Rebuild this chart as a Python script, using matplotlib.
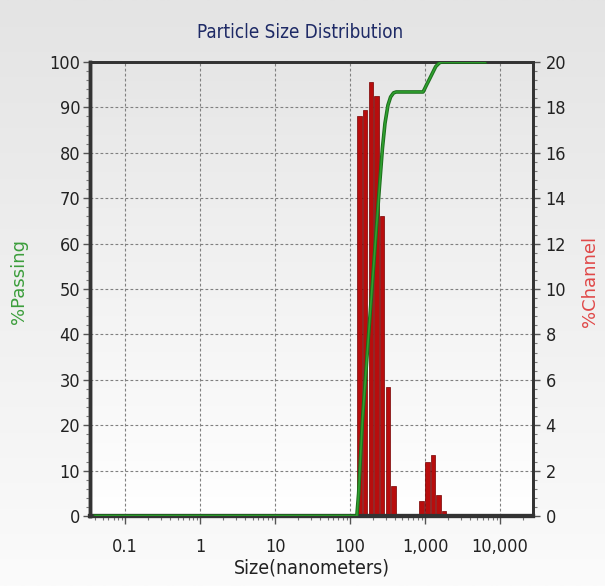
import numpy as np
import matplotlib
matplotlib.use("Agg")
import matplotlib.pyplot as plt
from matplotlib.ticker import FixedLocator, MultipleLocator, LogLocator, NullFormatter

# channel data (size in nm, % in channel)
bin_sizes = [134, 159, 189, 225, 268, 318, 378, 900, 1070, 1272, 1513, 1800]
channel_pct = [17.6, 17.9, 19.1, 18.5, 13.2, 5.7, 1.3, 0.66, 2.4, 2.7, 0.93, 0.2]

# cumulative passing curve
pass_sizes = [0.04, 100, 123, 130, 146, 173, 206, 245, 270, 292, 320, 347, 380, 412,
              600, 940, 981, 1050, 1167, 1387, 1550, 1650, 1800, 3000, 6300]
pass_pct = [0, 0, 0, 5, 21, 38, 55, 72, 81, 86.5, 90.5, 92.3, 93.2, 93.4,
            93.4, 93.4, 94.0, 95.0, 96.5, 99.0, 99.8, 100, 100, 100, 100]

x_ticks = [0.1, 1, 10, 100, 1000, 10000]
x_labels = ["0.1", "1", "10", "100", "1,000", "10,000"]

plt.rcParams['font.family'] = ['DejaVu Sans']
plt.rcParams['font.stretch'] = 'condensed'
W, H = 605, 586
fig = plt.figure(figsize=(W / 100, H / 100), dpi=100)

# figure background gradient
bg = fig.add_axes([0, 0, 1, 1], zorder=-10)
grad = np.linspace(0, 1, 256).reshape(-1, 1)
bg.imshow(grad, aspect='auto', cmap=matplotlib.colors.LinearSegmentedColormap.from_list(
    'g', ['#e4e4e4', '#fbfbfb']), extent=[0, 1, 0, 1], transform=bg.transAxes)
bg.axis('off')

pos = [90 / W, 1 - 516 / H, (533 - 90) / W, (516 - 62) / H]
ax2 = fig.add_axes(pos)   # right axis: %Channel (bars)
ax = fig.add_axes(pos, sharex=ax2)   # left axis: %Passing (curve)
ax.set_zorder(ax2.get_zorder() + 1)
ax.patch.set_visible(False)

# plot area gradient
ax2.imshow(grad, aspect='auto', cmap=matplotlib.colors.LinearSegmentedColormap.from_list(
    'p', ['#e6e6e6', '#ffffff']), extent=[0, 1, 0, 1], transform=ax2.transAxes, zorder=0)

ax2.set_xscale('log')
ax2.set_xlim(0.034, 27500)
ax2.set_ylim(0, 20)
ax.set_ylim(0, 100)

# bars, one per log channel
r = 2 ** 0.25
sizes = np.array(bin_sizes, dtype=float)
step = sizes * (r ** 0.5 - r ** -0.5)
ax2.bar(sizes / r ** 0.5 + step * 0.11, channel_pct, width=step * 0.78, align='edge',
        color='#b80d0d', edgecolor='#760000', linewidth=0.5, zorder=3)

# passing curve
ax.plot(pass_sizes, pass_pct, color='#1c6e1c', lw=2.6, zorder=4, solid_joinstyle='round')
ax.plot(pass_sizes, pass_pct, color='#2fa02f', lw=1.2, zorder=5, solid_joinstyle='round')

# grid
ax2.grid(True, which='major', axis='both', color='#808080', ls=(0, (2.5, 2)), lw=0.8, zorder=1)
ax2.set_axisbelow(True)

# ticks
ax2.yaxis.tick_right()
ax2.yaxis.set_label_position('right')
ax2.yaxis.set_major_locator(MultipleLocator(2))
ax2.yaxis.set_minor_locator(MultipleLocator(0.4))
ax.yaxis.tick_left()
ax.yaxis.set_major_locator(MultipleLocator(10))
ax.yaxis.set_minor_locator(MultipleLocator(2))
ax2.xaxis.set_major_locator(FixedLocator(x_ticks))
ax2.xaxis.set_minor_locator(LogLocator(base=10, subs=np.arange(2, 10)))
ax2.xaxis.set_minor_formatter(NullFormatter())
ax2.set_xticklabels(x_labels)
ax.tick_params(axis='x', which='both', bottom=False, labelbottom=False)

for a in (ax, ax2):
    a.tick_params(which='major', length=5, width=1, color='#555555', labelsize=13,
                  labelcolor='#222222', direction='out', pad=2)
    a.tick_params(which='minor', length=3, width=0.8, color='#777777', direction='out')
    for s in a.spines.values():
        s.set_color('#333333')
        s.set_linewidth(2)
    a.spines['bottom'].set_linewidth(3)
    a.spines['left'].set_linewidth(2.5)
ax2.tick_params(axis='x', which='major', length=6, pad=10)
ax2.tick_params(axis='y', pad=4)

ax.set_ylabel('%Passing', color='#3c9e3c', fontsize=13, fontstretch='normal')
ax.yaxis.set_label_coords((28 - 90) / 443, (516 - 281) / 454)
ax2.set_ylabel('%Channel', color='#e04848', fontsize=13, fontstretch='normal')
ax2.yaxis.set_label_coords((581 - 90) / 443, (516 - 281) / 454)
ax2.set_xlabel('Size(nanometers)', color='#222222', fontsize=14, labelpad=2)
fig.text(300 / W, 1 - 33 / H, 'Particle Size Distribution', ha='center', va='center',
         fontsize=13.5, color='#1e2a66')

fig.savefig('out.png', dpi=100)
